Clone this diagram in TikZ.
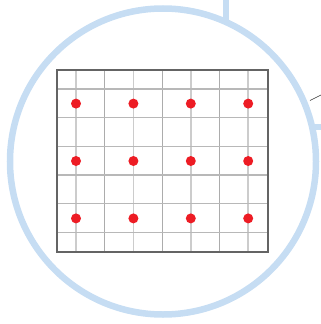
\documentclass[tikz,border=0pt]{standalone}
\definecolor{ringblue}{RGB}{198,221,243}
\definecolor{spotred}{RGB}{237,28,36}
\definecolor{gridgrey}{RGB}{172,172,172}
\definecolor{gridpale}{RGB}{204,204,204}
\definecolor{framegrey}{RGB}{100,100,100}

\begin{document}
\begin{tikzpicture}[
  x=1pt, y=-1pt,
  ring/.style      = {draw=ringblue, line width=6.5pt},
  stub/.style      = {ringblue, line width=6.5pt},
  frame/.style     = {draw=framegrey, line width=1.2pt},
  majorline/.style = {gridpale, line width=1.8pt},
  minorline/.style = {gridgrey, line width=1pt},
  rowline/.style   = {gridgrey!85, line width=1.3pt},
  spot/.style      = {circle, fill=spotred, inner sep=0pt, minimum size=10pt},
  lead/.style      = {draw=black!80, line width=0.6pt},
]
  \useasboundingbox (0,0) rectangle (321,324);

  % stubs leaving the ring
  \draw[stub] (226,-4) -- (226,20);
  \draw[stub] (312,127) -- (326,127);
  \draw[ring] (163,161.5) circle[radius=153];

  % grid
  \foreach \i in {0,2,4,6} \draw[majorline] ({76+28.7*\i},70) -- ({76+28.7*\i},252);
  \foreach \i in {1,3,5} \draw[minorline] ({76+28.7*\i},70) -- ({76+28.7*\i},252);
  \foreach \j in {0,...,5} \draw[rowline] (57,{89+28.7*\j}) -- (268,{89+28.7*\j});
  \draw[frame] (57,70) rectangle (268,252);

  % spots
  \foreach \i in {0,...,3}
    \foreach \j in {0,...,2}
      \node[spot] (s-\i-\j) at ({76+57.4*\i},{103.6+57.4*\j}) {};

  % leader line
  \coordinate (leadA) at (310,100.5);
  \coordinate (leadB) at (323,94);
  \draw[lead] (leadA) -- (leadB);
\end{tikzpicture}
\end{document}
